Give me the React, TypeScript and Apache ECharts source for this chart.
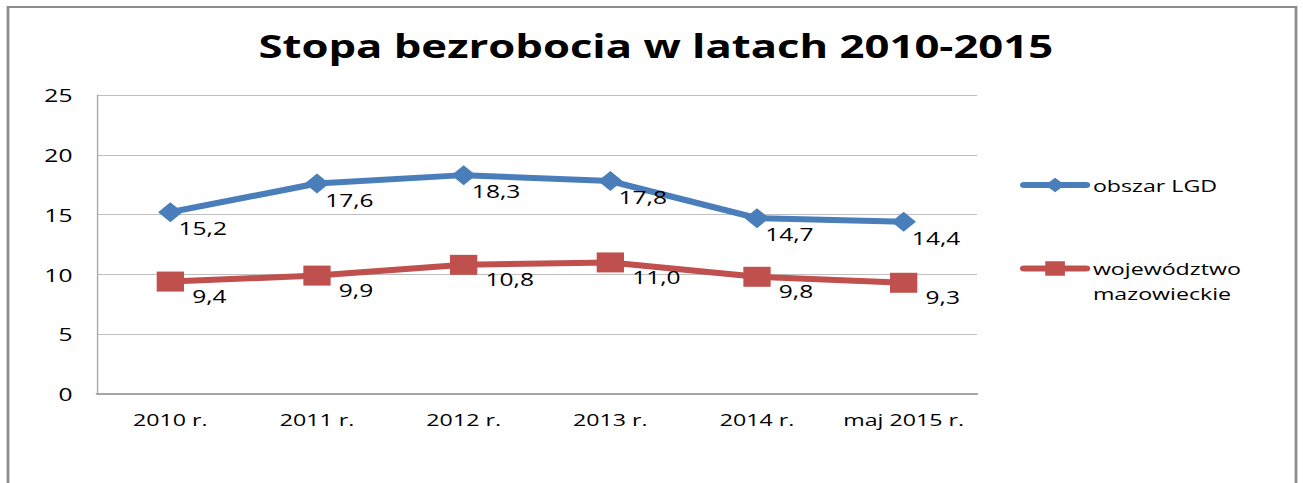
import React, { useEffect, useRef } from "react";
import * as echarts from "echarts";

const categories = ["2010 r.", "2011 r.", "2012 r.", "2013 r.", "2014 r.", "maj 2015 r."];
const lgdValues = [15.2, 17.6, 18.3, 17.8, 14.7, 14.4];
const mazValues = [9.4, 9.9, 10.8, 11.0, 9.8, 9.3];
const seriesNames = ["obszar LGD", "województwo mazowieckie"];
const titleText = "Stopa bezrobocia w latach 2010-2015";

const fmt = (v: number) => v.toFixed(1).replace(".", ",");

// The reference image is stretched horizontally; render narrower and stretch.
const PAGE_W = 1303;
const INNER_W = 955;
const SX = PAGE_W / INNER_W;
const H = 483;

export default function App() {
  const ref = useRef<HTMLDivElement>(null);
  useEffect(() => {
    if (!ref.current) return;
    const chart = echarts.init(ref.current, undefined, { renderer: "svg" });
    const font = "Open Sans";
    chart.setOption({
      animation: false,
      backgroundColor: "#ffffff",
      title: {
        text: titleText,
        left: 649 / SX,
        textAlign: "center",
        top: 24,
        textStyle: { fontFamily: font, fontWeight: "bold", fontSize: 32, color: "#000" },
      },
      graphic: [
        {
          type: "rect",
          shape: { x: 8 / SX, y: 7, width: (1296 - 8) / SX, height: 500 },
          style: { fill: "none", stroke: "#8c8c8c", lineWidth: 2 },
          silent: true,
          z: -1,
        },
      ],
      grid: { left: 97 / SX, right: INNER_W - 977 / SX, top: 95, bottom: H - 394 },
      legend: {
        orient: "vertical",
        left: 1020 / SX - 5,
        top: 167.5,
        itemWidth: 62 / SX,
        itemHeight: 18,
        itemGap: 33.5,
        lineStyle: { width: 6, cap: "round" },
        textStyle: { fontFamily: font, fontSize: 17, color: "#000", lineHeight: 25 },
        formatter: (name: string) =>
          name === seriesNames[1] ? "\nwojewództwo\nmazowieckie" : name,
        data: [seriesNames[0], seriesNames[1]],
      },
      xAxis: {
        type: "category",
        data: categories,
        boundaryGap: true,
        axisLine: { show: true, lineStyle: { color: "#a6a6a6", width: 2 } },
        axisTick: { show: false },
        axisLabel: { fontFamily: font, fontSize: 17, color: "#000", margin: 17, interval: 0 },
      },
      yAxis: {
        type: "value",
        min: 0,
        max: 25,
        interval: 5,
        axisLine: { show: true, lineStyle: { color: "#a6a6a6", width: 1 } },
        axisTick: { show: false },
        splitLine: { lineStyle: { color: "#bfbfbf", width: 1 } },
        axisLabel: { fontFamily: font, fontSize: 18, color: "#000", margin: 18 },
      },
      series: [
        {
          name: seriesNames[0],
          type: "line",
          data: lgdValues,
          symbol: "diamond",
          symbolSize: [18, 20],
          itemStyle: { color: "#4a7ebb" },
          lineStyle: { color: "#4a7ebb", width: 6 },
          label: {
            show: true,
            position: "right",
            distance: 0,
            offset: [-3, 16],
            formatter: (p: any) => fmt(p.value),
            fontFamily: font,
            fontSize: 18,
            color: "#000",
          },
        },
        {
          name: seriesNames[1],
          type: "line",
          data: mazValues,
          symbol: "rect",
          symbolSize: [20, 20],
          itemStyle: { color: "#c0504d" },
          lineStyle: { color: "#c0504d", width: 6 },
          label: {
            show: true,
            position: "right",
            distance: 0,
            offset: [6, 14],
            formatter: (p: any) => fmt(p.value),
            fontFamily: font,
            fontSize: 18,
            color: "#000",
          },
        },
      ],
    });
    return () => chart.dispose();
  }, []);
  return (
    <div
      ref={ref}
      style={{
        position: "fixed",
        left: 0,
        top: 0,
        width: INNER_W,
        height: H,
        transform: `scaleX(${SX})`,
        transformOrigin: "0 0",
      }}
    />
  );
}
